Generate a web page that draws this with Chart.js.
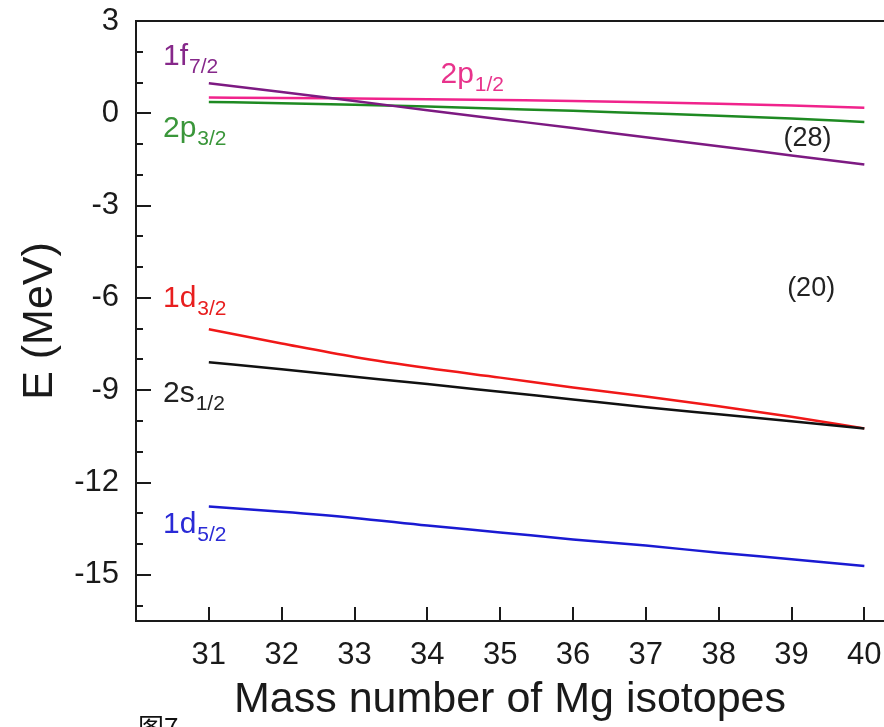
<!DOCTYPE html>
<html>
<head>
<meta charset="utf-8">
<title>Mg isotopes single-particle levels</title>
<script src="https://cdn.jsdelivr.net/npm/chart.js@4.4.1/dist/chart.umd.min.js"></script>
<style>
  html, body { margin: 0; padding: 0; background: #fff; }
  #wrap { position: relative; width: 884px; height: 727px; }
</style>
</head>
<body>
<div id="wrap"><canvas id="chart" width="884" height="727"></canvas></div>
<script>
// mass numbers of the Mg isotopes
const massNumbers = [31, 32, 33, 34, 35, 36, 37, 38, 39, 40];

// single-particle energies (MeV)
const level1f72 = [0.98, 0.69, 0.40, 0.10, -0.19, -0.48, -0.78, -1.07, -1.37, -1.66];
const level2p12 = [0.51, 0.50, 0.48, 0.46, 0.43, 0.40, 0.36, 0.31, 0.25, 0.18];
const level2p32 = [0.37, 0.33, 0.28, 0.22, 0.15, 0.08, 0.00, -0.08, -0.17, -0.28];
const level1d32 = [-7.02, -7.48, -7.92, -8.28, -8.59, -8.91, -9.20, -9.52, -9.86, -10.24];
const level2s12 = [-8.09, -8.32, -8.56, -8.80, -9.05, -9.30, -9.55, -9.78, -10.01, -10.24];
const level1d52 = [-12.78, -12.95, -13.15, -13.40, -13.62, -13.85, -14.05, -14.28, -14.49, -14.71];

// tick labels
const xTickValues = [31, 32, 33, 34, 35, 36, 37, 38, 39, 40];
const yTickValues = [3, 0, -3, -6, -9, -12, -15];

// orbit names: [main, subscript, x (A), y (MeV), colour]
const orbitNames = [
  ['1f', '7/2', 30.37, 1.56, '#86288a'],
  ['2p', '1/2', 34.18, 0.97, '#e8338c'],
  ['2p', '3/2', 30.37, -0.78, '#3a963a'],
  ['1d', '3/2', 30.37, -6.30, '#e81e1e'],
  ['2s', '1/2', 30.37, -9.38, '#222222'],
  ['1d', '5/2', 30.37, -13.64, '#2a2ad6']
];
// shell gaps
const gapLabels = [['(28)', 38.89, -1.07], ['(20)', 38.94, -5.94]];

const FONT = '"Liberation Sans", Arial, Helvetica, sans-serif';

function series(label, values, color) {
  return {
    label: label,
    data: massNumbers.map((m, i) => ({x: m, y: values[i]})),
    borderColor: color,
    borderWidth: 2.5,
    pointRadius: 0,
    fill: false,
    cubicInterpolationMode: 'monotone'
  };
}

// axis frame, inward ticks and text annotations
const framePlugin = {
  id: 'frame',
  afterDatasetsDraw(chart) {
    const {ctx, chartArea: a, scales: {x, y}} = chart;
    ctx.save();
    ctx.strokeStyle = '#1a1a1a';
    ctx.lineWidth = 2;
    ctx.beginPath();
    ctx.moveTo(a.right + 2, a.top);
    ctx.lineTo(a.left, a.top);
    ctx.lineTo(a.left, a.bottom);
    ctx.lineTo(a.right + 2, a.bottom);
    xTickValues.forEach(v => {
      const px = Math.round(x.getPixelForValue(v));
      ctx.moveTo(px, a.bottom);
      ctx.lineTo(px, a.bottom - 14);
    });
    for (let v = -16; v <= 3; v++) {
      const py = Math.round(y.getPixelForValue(v));
      ctx.moveTo(a.left, py);
      ctx.lineTo(a.left + (v % 3 === 0 ? 15 : 7), py);
    }
    ctx.stroke();

    ctx.textBaseline = 'alphabetic';
    ctx.textAlign = 'left';
    orbitNames.forEach(([main, sub, vx, vy, color]) => {
      const px = x.getPixelForValue(vx);
      const py = y.getPixelForValue(vy);
      ctx.fillStyle = color;
      ctx.font = '30px ' + FONT;
      ctx.fillText(main, px, py);
      const w = ctx.measureText(main).width;
      ctx.font = '21px ' + FONT;
      ctx.fillText(sub, px + w + 1, py + 8);
    });

    ctx.fillStyle = '#222';
    ctx.font = '27px ' + FONT;
    gapLabels.forEach(([t, vx, vy]) => {
      ctx.fillText(t, x.getPixelForValue(vx), y.getPixelForValue(vy));
    });

    ctx.fillStyle = '#111';
    ctx.font = '26px "Noto Sans CJK SC", sans-serif';
    ctx.fillText('图7', a.left + 2, 737);
    ctx.restore();
  }
};

new Chart(document.getElementById('chart'), {
  type: 'line',
  data: {
    datasets: [
      series('1f7/2', level1f72, '#7d1a82'),
      series('2p3/2', level2p32, '#1e8a22'),
      series('2p1/2', level2p12, '#f0238c'),
      series('2s1/2', level2s12, '#111111'),
      series('1d3/2', level1d32, '#f01818'),
      series('1d5/2', level1d52, '#1a1ad2')
    ]
  },
  options: {
    responsive: false,
    animation: false,
    layout: {padding: {top: 21, right: 0, left: 0, bottom: 0}},
    plugins: {legend: {display: false}, tooltip: {enabled: false}},
    scales: {
      x: {
        type: 'linear',
        min: 30,
        max: 40.27,
        afterBuildTicks: s => { s.ticks = xTickValues.map(v => ({value: v})); },
        afterFit: s => { s.height = 106; s.paddingLeft = 0; s.paddingRight = 0; },
        grid: {display: false, drawTicks: false, tickLength: 0},
        border: {display: false},
        ticks: {color: '#1a1a1a', padding: 16, font: {family: FONT, size: 31}},
        title: {
          display: true,
          text: 'Mass number of Mg isotopes',
          color: '#1a1a1a',
          font: {family: FONT, size: 43},
          padding: {top: 0, bottom: 1}
        }
      },
      y: {
        type: 'linear',
        min: -16.5,
        max: 3,
        afterBuildTicks: s => { s.ticks = yTickValues.map(v => ({value: v})); },
        afterFit: s => { s.width = 136; s.paddingTop = 0; s.paddingBottom = 0; },
        grid: {display: false, drawTicks: false, tickLength: 0},
        border: {display: false},
        ticks: {color: '#1a1a1a', padding: 17, font: {family: FONT, size: 31}},
        title: {
          display: true,
          text: 'E (MeV)',
          color: '#1a1a1a',
          font: {family: FONT, size: 43},
          padding: {top: 14, bottom: 0}
        }
      }
    }
  },
  plugins: [framePlugin]
});
</script>
</body>
</html>
